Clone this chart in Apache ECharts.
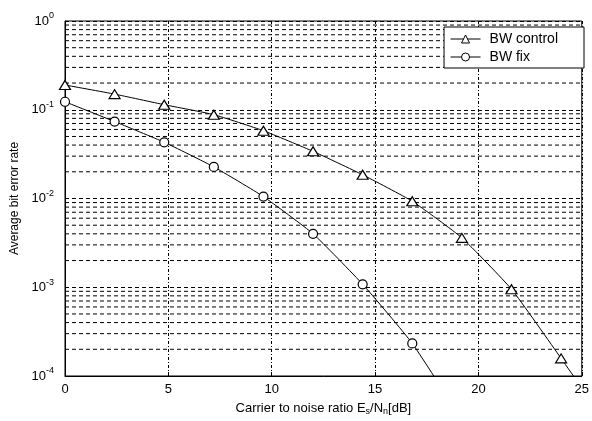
<!DOCTYPE html>
<html>
<head>
<meta charset="utf-8">
<script src="https://cdn.jsdelivr.net/npm/echarts@6/dist/echarts.min.js"></script>
<style>html,body{margin:0;padding:0;background:#fff;}#c{width:592px;height:421px;}</style>
</head>
<body>
<div id="c"></div>
<script>
var snrControl = [0, 2.4, 4.8, 7.2, 9.6, 12, 14.4, 16.8, 19.2, 21.6, 24, 26.4];
var berControl = [0.19, 0.15, 0.114, 0.088, 0.058, 0.034, 0.0185, 0.0093, 0.0036, 0.00095, 0.000158, 0.000025];
var snrFix = [0, 2.4, 4.8, 7.2, 9.6, 12, 14.4, 16.8, 19.2];
var berFix = [0.123, 0.0736, 0.043, 0.0227, 0.0105, 0.004, 0.00108, 0.000233, 0.000032];
var markerCountControl = 11;
var markerCountFix = 8;
var xRange = [0, 25];
var yDecades = [-4, -3, -2, -1, 0];
var minorMultipliers = [2, 3, 4, 5, 6, 7, 8, 9];

function pairs(xs, ys, nMarked) {
  return xs.map(function (x, i) {
    var d = { value: [x, ys[i]] };
    if (i >= nMarked) { d.symbol = 'none'; d.symbolSize = 0; }
    return d;
  });
}
var font = 'Liberation Sans, Arial, Helvetica, sans-serif';
var gridSeries = [];
yDecades.slice(0, 4).forEach(function (k) {
  minorMultipliers.forEach(function (m) {
    var v = m * Math.pow(10, k);
    gridSeries.push({
      name: 'grid' + k + '_' + m, type: 'line', silent: true,
      data: [[xRange[0], v], [xRange[1], v]],
      symbol: 'none', showSymbol: false,
      lineStyle: { color: '#000', width: 1, type: [4, 3] },
      z: 1, tooltip: { show: false }, emphasis: { disabled: true }
    });
  });
});

var chart = echarts.init(document.getElementById('c'), null, { renderer: 'canvas' });
chart.setOption({
  animation: false,
  backgroundColor: '#fff',
  textStyle: { fontFamily: font, color: '#000' },
  grid: { left: 65, right: 7, top: 21, bottom: 40, show: true, borderColor: '#000', borderWidth: 1, backgroundColor: 'transparent' },
  legend: {
    right: 8, top: 27,
    orient: 'vertical',
    backgroundColor: '#fff',
    borderColor: '#000', borderWidth: 1,
    padding: [5, 26, 4, 6],
    itemGap: 4,
    itemWidth: 30, itemHeight: 10,
    lineStyle: { width: 1 },
    itemStyle: { borderWidth: 1 },
    textStyle: { fontFamily: font, fontSize: 14, color: '#000', padding: [0, 0, 0, 4] },
    data: ['BW control', 'BW fix']
  },
  xAxis: {
    type: 'value', min: 0, max: 25, interval: 5,
    name: '{t|Carrier to noise ratio E}{s|s}{t|/N}{s|n}{t|[dB]}',
    nameLocation: 'middle', nameGap: 24,
    nameTextStyle: { rich: { t: { fontSize: 13, fontFamily: font, color: '#000' }, s: { fontSize: 9, fontFamily: font, color: '#000', padding: [7, 0, 0, 0] } } },
    axisLine: { show: true, lineStyle: { color: '#000', width: 1 } },
    axisTick: { show: true, inside: true, length: 4, lineStyle: { color: '#000' } },
    axisLabel: { fontSize: 13, color: '#000', margin: 7, fontFamily: font },
    splitLine: { show: true, lineStyle: { color: '#000', width: 1, type: [3, 2, 1, 2] } }
  },
  yAxis: {
    type: 'log', logBase: 10, min: 1e-4, max: 1,
    name: 'Average bit error rate',
    nameLocation: 'middle', nameGap: 37, nameRotate: 90,
    nameTextStyle: { fontSize: 12, fontFamily: font, color: '#000' },
    axisLine: { show: true, lineStyle: { color: '#000', width: 1 } },
    axisTick: { show: true, inside: true, length: 4, lineStyle: { color: '#000' } },
    axisLabel: {
      margin: 11, color: '#000',
      formatter: function (v) {
        var e = Math.round(Math.log10(v));
        return '{b|10}{e|' + e + '}';
      },
      rich: {
        b: { fontSize: 13, fontFamily: font, color: '#000' },
        e: { fontSize: 9, fontFamily: font, color: '#000', padding: [0, 0, 10, 0] }
      }
    },
    splitLine: { show: true, lineStyle: { color: '#000', width: 1, type: [4, 3] } }
  },
  series: gridSeries.concat([
    {
      name: 'BW control', type: 'line',
      data: pairs(snrControl, berControl, markerCountControl),
      symbol: 'triangle', symbolSize: [11, 9],
      lineStyle: { color: '#000', width: 1, type: 'solid' },
      itemStyle: { color: '#fff', borderColor: '#000', borderWidth: 1.2 },
      smooth: 0.15, clip: true, z: 5
    },
    {
      name: 'BW fix', type: 'line',
      data: pairs(snrFix, berFix, markerCountFix),
      symbol: 'circle', symbolSize: 9,
      lineStyle: { color: '#000', width: 1, type: 'solid' },
      itemStyle: { color: '#fff', borderColor: '#000', borderWidth: 1.2 },
      smooth: 0.15, clip: true, z: 5
    }
  ])
});
</script>
</body>
</html>
